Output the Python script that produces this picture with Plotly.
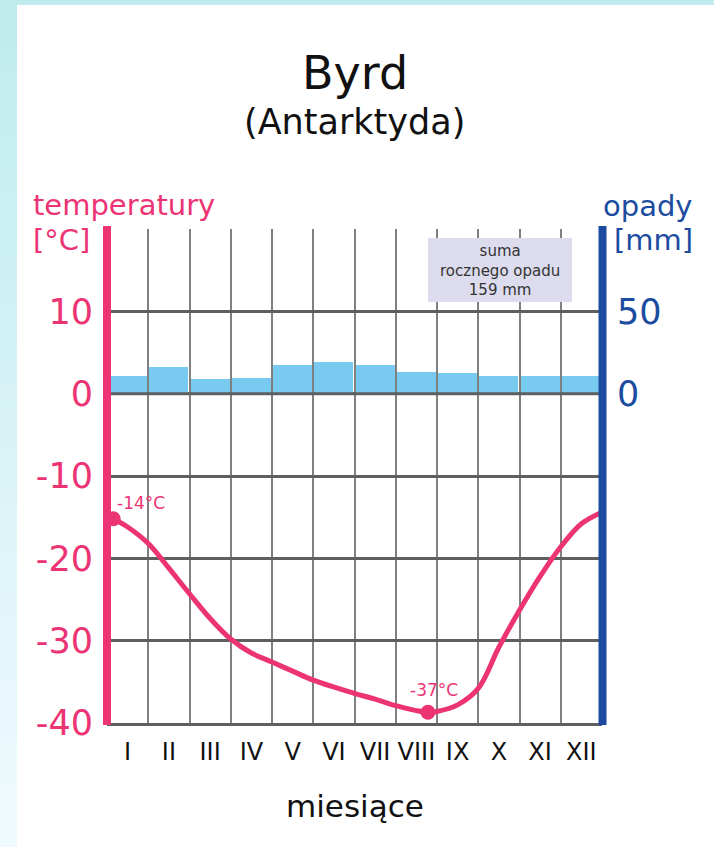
import plotly.graph_objects as go

# ---- data ----
months = ["I", "II", "III", "IV", "V", "VI", "VII", "VIII", "IX", "X", "XI", "XII"]
month_pos = [0.5, 1.5, 2.5, 3.5, 4.5, 5.5, 6.5, 7.5, 8.5, 9.5, 10.5, 11.5]
precip_mm = [11, 16.5, 9, 9.5, 17.5, 19.5, 17.5, 13, 12.5, 11, 11, 11]

curve_month = [0.15, 0.5, 1.0, 1.5, 2.0, 2.5, 3.0, 3.5, 4.0, 4.5, 5.0, 6.0, 6.5, 7.0, 7.5,
               7.78, 8.0, 8.5, 9.0, 9.5, 10.0, 10.5, 11.0, 11.5, 12.0]
curve_temp = [-15.2, -16.2, -18.2, -21.2, -24.3, -27.3, -29.8, -31.5, -32.6, -33.7, -34.8, -36.4, -37.1, -37.9, -38.5,
              -38.7, -38.6, -37.8, -35.8, -30.8, -26.3, -22.2, -18.6, -15.8, -14.4]

marker_month = [0.15, 7.78]
marker_temp = [-15.2, -38.7]
marker_text = ["-14°C", "-37°C"]

temp_ticks = [-40, -30, -20, -10, 0, 10, 20]
temp_ticktext = ["-40", "-30", "-20", "-10", "0", "10", ""]
precip_ticks = [0, 50]
precip_total = "suma<br>rocznego opadu<br>159 mm"

# ---- styling ----
PINK = "#ec3474"
BLUE = "#1b4c9f"
BAR = "#78caf1"
FONT = "DejaVu Sans"
W, H = 714, 847
ML, MR, MT, MB = 107, 112, 229, 124
PW, PH = W - ML - MR, H - MT - MB


def px(x):
    return (x - ML) / PW


def py(y):
    return (H - MB - y) / PH


fig = go.Figure()

fig.add_trace(go.Bar(
    x=month_pos, y=precip_mm, width=0.95, marker=dict(color=BAR, line=dict(width=0)),
    yaxis="y2", hoverinfo="skip", showlegend=False,
))
fig.add_trace(go.Scatter(
    x=curve_month, y=curve_temp, mode="lines",
    line=dict(color=PINK, width=5, shape="spline", smoothing=1.0),
    hoverinfo="skip", showlegend=False,
))
fig.add_trace(go.Scatter(
    x=marker_month, y=marker_temp, mode="markers",
    marker=dict(color=PINK, size=15),
    hoverinfo="skip", showlegend=False, cliponaxis=False,
))

shapes = []
# background: cyan border with gradient on left strip, white panel
shapes.append(dict(type="rect", xref="paper", yref="paper", layer="below",
                   x0=px(0), x1=px(W), y0=py(H), y1=py(0),
                   fillcolor="#c0ecee", line=dict(width=0)))
n = 40
top_c = (0xc0, 0xec, 0xee)
bot_c = (0xef, 0xfa, 0xfe)
for i in range(n):
    t = i / (n - 1)
    c = tuple(int(round(top_c[k] + (bot_c[k] - top_c[k]) * t)) for k in range(3))
    shapes.append(dict(type="rect", xref="paper", yref="paper", layer="below",
                       x0=px(0), x1=px(17), y0=py(5 + (H - 5) * (i + 1) / n) - 0.002,
                       y1=py(5 + (H - 5) * i / n),
                       fillcolor="rgb(%d,%d,%d)" % c, line=dict(width=0)))
shapes.append(dict(type="rect", xref="paper", yref="paper", layer="below",
                   x0=px(17), x1=px(W), y0=py(H), y1=py(5),
                   fillcolor="white", line=dict(width=0)))
# zero line above the bars
shapes.append(dict(type="line", xref="paper", yref="y", x0=0, x1=1, y0=0, y1=0,
                   line=dict(color="#5f5f5f", width=3), layer="above"))
# precipitation total box
shapes.append(dict(type="rect", xref="paper", yref="paper", layer="above",
                   x0=px(428), x1=px(572), y0=py(302), y1=py(238),
                   fillcolor="#dcdcee", line=dict(width=0)))
# coloured side axes
shapes.append(dict(type="line", xref="paper", yref="paper", layer="above",
                   x0=px(107), x1=px(107), y0=py(725), y1=py(226),
                   line=dict(color=PINK, width=8)))
shapes.append(dict(type="line", xref="paper", yref="paper", layer="above",
                   x0=px(602.5), x1=px(602.5), y0=py(725), y1=py(226),
                   line=dict(color=BLUE, width=8)))

annotations = [
    dict(text="Byrd", x=px(355), y=py(73), xref="paper", yref="paper", showarrow=False,
         font=dict(family=FONT, size=46, color="#111"), xanchor="center", yanchor="middle"),
    dict(text="(Antarktyda)", x=px(354), y=py(122), xref="paper", yref="paper", showarrow=False,
         font=dict(family=FONT, size=35, color="#111"), xanchor="center", yanchor="middle"),
    dict(text="temperatury", x=px(31), y=py(205), xref="paper", yref="paper", showarrow=False,
         font=dict(family=FONT, size=29, color=PINK), xanchor="left", yanchor="middle"),
    dict(text="[°C]", x=px(31), y=py(240), xref="paper", yref="paper", showarrow=False,
         font=dict(family=FONT, size=29, color=PINK), xanchor="left", yanchor="middle"),
    dict(text="opady", x=px(695), y=py(206), xref="paper", yref="paper", showarrow=False,
         font=dict(family=FONT, size=29, color=BLUE), xanchor="right", yanchor="middle"),
    dict(text="[mm]", x=px(695), y=py(240), xref="paper", yref="paper", showarrow=False,
         font=dict(family=FONT, size=29, color=BLUE), xanchor="right", yanchor="middle"),
    dict(text="miesiące", x=px(355), y=py(806), xref="paper", yref="paper", showarrow=False,
         font=dict(family=FONT, size=31, color="#111"), xanchor="center", yanchor="middle"),
    dict(text=precip_total, x=px(500), y=py(270), xref="paper", yref="paper", showarrow=False,
         font=dict(family=FONT, size=15, color="#333"), xanchor="center", yanchor="middle",
         align="center"),
    dict(text=marker_text[0], x=marker_month[0], y=marker_temp[0], xref="x", yref="y",
         showarrow=False, xanchor="left", yanchor="bottom", xshift=2, yshift=4,
         font=dict(family=FONT, size=17, color=PINK)),
    dict(text=marker_text[1], x=marker_month[1], y=marker_temp[1], xref="x", yref="y",
         showarrow=False, xanchor="center", yanchor="bottom", xshift=6, yshift=10,
         font=dict(family=FONT, size=17, color=PINK)),
]

fig.update_layout(
    width=W, height=H,
    margin=dict(l=ML, r=MR, t=MT, b=MB, pad=0),
    paper_bgcolor="white", plot_bgcolor="white",
    bargap=0, showlegend=False,
    shapes=shapes, annotations=annotations,
    font=dict(family=FONT),
    xaxis=dict(
        range=[0, 12], tickmode="array", tickvals=month_pos, ticktext=months,
        showgrid=False, zeroline=False, showline=True, linecolor="#5f5f5f", linewidth=3,
        ticks="outside", ticklen=5, tickcolor="rgba(0,0,0,0)",
        tickfont=dict(family=FONT, size=24, color="#111"),
        minor=dict(tick0=0, dtick=1, showgrid=True, gridcolor="#808080", gridwidth=2, ticks=""),
        fixedrange=True,
    ),
    yaxis=dict(
        range=[-40, 20], tickmode="array", tickvals=temp_ticks, ticktext=temp_ticktext,
        showgrid=True, gridcolor="#5f5f5f", gridwidth=3, zeroline=False, showline=False,
        ticks="outside", ticklen=6, tickcolor="rgba(0,0,0,0)",
        tickfont=dict(family=FONT, size=35, color=PINK),
        fixedrange=True,
    ),
    yaxis2=dict(
        range=[-200, 100], overlaying="y", side="right", tickmode="array", tickvals=precip_ticks,
        showgrid=False, zeroline=False, showline=False,
        ticks="outside", ticklen=7, tickcolor="rgba(0,0,0,0)",
        tickfont=dict(family=FONT, size=35, color=BLUE),
        fixedrange=True,
    ),
)

fig.write_html(
    "out.html",
    config={"displayModeBar": False},
    post_script="document.body.style.margin='0';document.body.style.overflow='hidden';",
)
